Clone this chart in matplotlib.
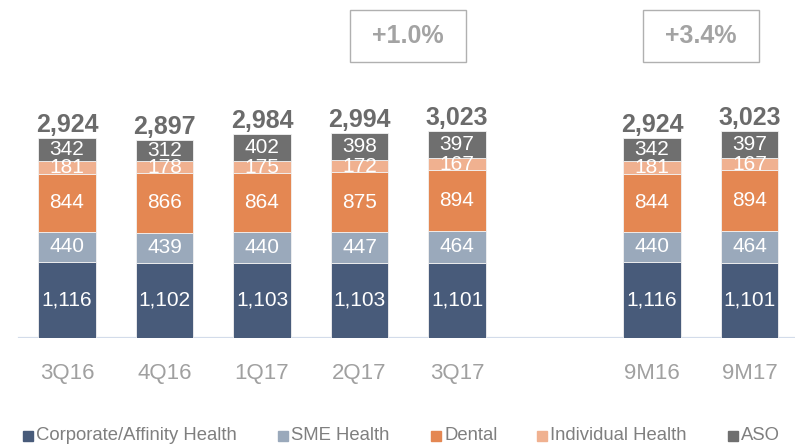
import matplotlib.pyplot as plt
import matplotlib.patches as mpatches
import numpy as np

plt.rcParams['font.family'] = ['Liberation Sans', 'DejaVu Sans']

# data
periods = ['3Q16', '4Q16', '1Q17', '2Q17', '3Q17', '9M16', '9M17']
corporate = [1116, 1102, 1103, 1103, 1101, 1116, 1101]
sme = [440, 439, 440, 447, 464, 440, 464]
dental = [844, 866, 864, 875, 894, 844, 894]
individual = [181, 178, 175, 172, 167, 181, 167]
aso = [342, 312, 402, 398, 397, 342, 397]
totals = [2924, 2897, 2984, 2994, 3023, 2924, 3023]
series_names = ['Corporate/Affinity Health', 'SME Health', 'Dental',
                'Individual Health', 'ASO']
growth_labels = ['+1.0%', '+3.4%']

colors = ['#485b7a', '#9aa9bb', '#e48752', '#f0b190', '#6f6f6f']

# bar positions: a gap between quarters and nine-month figures
pos = np.array([0, 1, 2, 3, 4, 6, 7])
growth_pos = [3.5, 6.5]

fig = plt.figure(figsize=(7.95, 4.47), dpi=100)
ax = fig.add_axes([0, 109 / 447, 1, 338 / 447])

series = [corporate, sme, dental, individual, aso]
bottom = np.zeros(len(pos))
for vals, col in zip(series, colors):
    vals = np.array(vals)
    ax.bar(pos, vals, width=0.585, bottom=bottom, color=col,
           edgecolor='#f2f2f2', linewidth=0.6, zorder=2)
    for x, b, v in zip(pos, bottom, vals):
        ax.text(x, b + v / 2, f'{v:,}', ha='center', va='center',
                color='white', fontsize=15, zorder=3)
    bottom += vals

for x, b, t in zip(pos, bottom, totals):
    ax.annotate(f'{t:,}', (x, b), xytext=(0, 4.5), textcoords='offset points',
                ha='center', va='baseline', fontsize=18, fontweight='bold',
                color='#6b6b6b')

# growth boxes
trans = ax.get_xaxis_transform()
for gx, g in zip(growth_pos, growth_labels):
    w = 116 / 97.5
    y0 = (338 - 62) / 338
    y1 = (338 - 10) / 338
    ax.add_patch(mpatches.Rectangle((gx - w / 2, y0), w, y1 - y0,
                                    transform=trans, fill=False,
                                    edgecolor='#b0b0b0', linewidth=1.0,
                                    clip_on=False))
    ax.text(gx, (y0 + y1) / 2, g, transform=trans, ha='center', va='center',
            fontsize=18, fontweight='bold', color='#a3a3a3')

ax.set_xlim(-67 / 97.5, (795 - 67) / 97.5)
ax.set_ylim(0, 338 / 0.0684)
ax.axhline(0, xmin=19 / 795, xmax=1, color='#d3dcea', linewidth=1.6, zorder=1)

ax.set_xticks(pos)
ax.set_xticklabels(periods, fontsize=16, color='#a0a0a0')
ax.tick_params(axis='x', length=0, pad=18)
ax.set_yticks([])
for s in ax.spines.values():
    s.set_visible(False)

# legend drawn by hand
leg_x = [23, 278, 431, 537, 728]
for lx, name, col in zip(leg_x, series_names, colors):
    fig.patches.append(mpatches.Rectangle((lx / 795, (447 - 441) / 447),
                                          10 / 795, 10 / 447,
                                          transform=fig.transFigure,
                                          color=col, figure=fig))
    fig.text((lx + 13) / 795, (447 - 435) / 447, name, ha='left',
             va='center', fontsize=13.3, color='#7f7f7f')

fig.savefig('out.png', dpi=100)
